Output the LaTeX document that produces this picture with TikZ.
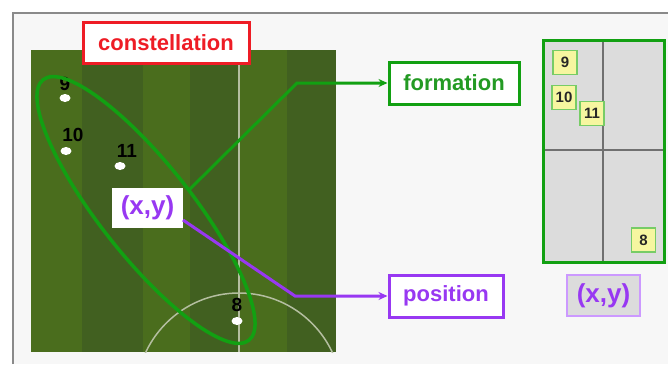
\documentclass[tikz,border=0pt]{standalone}
\usepackage{fontspec}
\setmainfont{Liberation Sans}
\usetikzlibrary{arrows.meta,shapes.geometric}
\definecolor{framebg}{HTML}{F7F7F7}
\definecolor{framegray}{HTML}{8A8A8A}
\definecolor{fieldlight}{HTML}{4A6D1D}
\definecolor{fielddark}{HTML}{416020}
\definecolor{fieldline}{HTML}{B4BEA0}
\definecolor{cred}{HTML}{EE1C25}
\definecolor{cgreen}{HTML}{12A012}
\definecolor{cgreentext}{HTML}{239A23}
\definecolor{cpurple}{HTML}{9838F2}
\definecolor{gridfill}{HTML}{DCDCDC}
\definecolor{gridline}{HTML}{707070}
\definecolor{ybox}{HTML}{F6F6A0}
\definecolor{yboxborder}{HTML}{77CC66}
\definecolor{lpurple}{HTML}{CC99FF}
\begin{document}
\begin{tikzpicture}[x=1pt,y=-1pt,
  lbl/.style={font=\fontsize{22}{24}\selectfont\bfseries, inner sep=0pt, line width=3pt, fill=white},
  xylbl/.style={font=\fontsize{26}{28}\selectfont\bfseries, inner sep=0pt, text=cpurple},
  player/.style={ellipse, fill=white, minimum width=11pt, minimum height=8pt, inner sep=0pt},
  numlbl/.style={font=\fontsize{19}{19}\selectfont\bfseries, text=black, inner sep=0pt},
  small/.style={draw=yboxborder, fill=ybox, line width=1.5pt, minimum width=24pt, minimum height=24pt, inner sep=0pt, font=\fontsize{15}{15}\selectfont\bfseries, text=black!85},
  conn/.style={line width=3pt, -{Stealth[length=9pt,width=8pt]}}
]
\useasboundingbox (0,0) rectangle (668,364);
\fill[white] (0,0) rectangle (668,364);
\fill[framebg] (13,13) rectangle (668,364);
\draw[framegray, line width=1.5pt] (13,364) -- (13,13) -- (668,13);

% field stripes
\fill[fieldlight] (31,50) rectangle (82,352);
\fill[fielddark] (82,50) rectangle (143,352);
\fill[fieldlight] (143,50) rectangle (190,352);
\fill[fielddark] (190,50) rectangle (240,352);
\fill[fieldlight] (240,50) rectangle (287,352);
\fill[fielddark] (287,50) rectangle (336,352);
\begin{scope}
  \clip (31,50) rectangle (336,352);
  \draw[fieldline, line width=2pt] (239,50) -- (239,352);
  \draw[fieldline, line width=1.5pt] (239,396) circle[radius=103];
\end{scope}

% players
\node[player] (p9) at (65,98) {};
\node[player] (p10) at (66,151) {};
\node[player] (p11) at (120,166) {};
\node[player] (p8) at (237,321) {};
\node[numlbl] (n9) at (65,84) {9};
\node[numlbl] (n10) at (73,135) {10};
\node[numlbl] (n11) at (127,151) {11};
\node[numlbl] (n8) at (237,305) {8};

% formation ellipse
\node[ellipse, draw=cgreen, line width=3.5pt, rotate=-51.7, minimum width=332pt, minimum height=92pt, inner sep=0pt] (form) at (146,210) {};
\coordinate (fstart) at (189,190);

% labels
\node[lbl, draw=cred, text=cred, minimum width=166pt, minimum height=41pt] (const) at (166,42.5) {constellation};
\node[lbl, draw=cgreen, text=cgreentext, minimum width=130pt, minimum height=42pt] (formation) at (454,83) {formation};
\node[lbl, draw=cpurple, text=cpurple, minimum width=114pt, minimum height=42pt] (position) at (446,296) {position};
\node[xylbl, fill=white, minimum width=71pt, minimum height=40pt] (xy) at (147.5,208) {(x,y)};
\coordinate (pstart) at (183,220);

% connectors
\draw[cgreen, conn] (fstart) -- (297,83) -- (formation.west);
\draw[cpurple, conn] (pstart) -- (295,296) -- (position.west);

% abstract grid
\fill[gridfill] (543,40) rectangle (664,262);
\draw[gridline, line width=1.5pt] (603,40) -- (603,262);
\draw[gridline, line width=1.5pt] (543,150) -- (664,150);
\draw[cgreen, line width=3pt] (543,40) rectangle (664,262);
\node[small] (s9) at (565,62.5) {9};
\node[small] (s10) at (564,97.5) {10};
\node[small] (s11) at (592,113.5) {11};
\node[small] (s8) at (643.5,240) {8};

\node[xylbl, fill=gridfill, draw=lpurple, line width=1.5pt, minimum width=73pt, minimum height=41pt] (xy2) at (603.5,295.5) {(x,y)};
\end{tikzpicture}
\end{document}
